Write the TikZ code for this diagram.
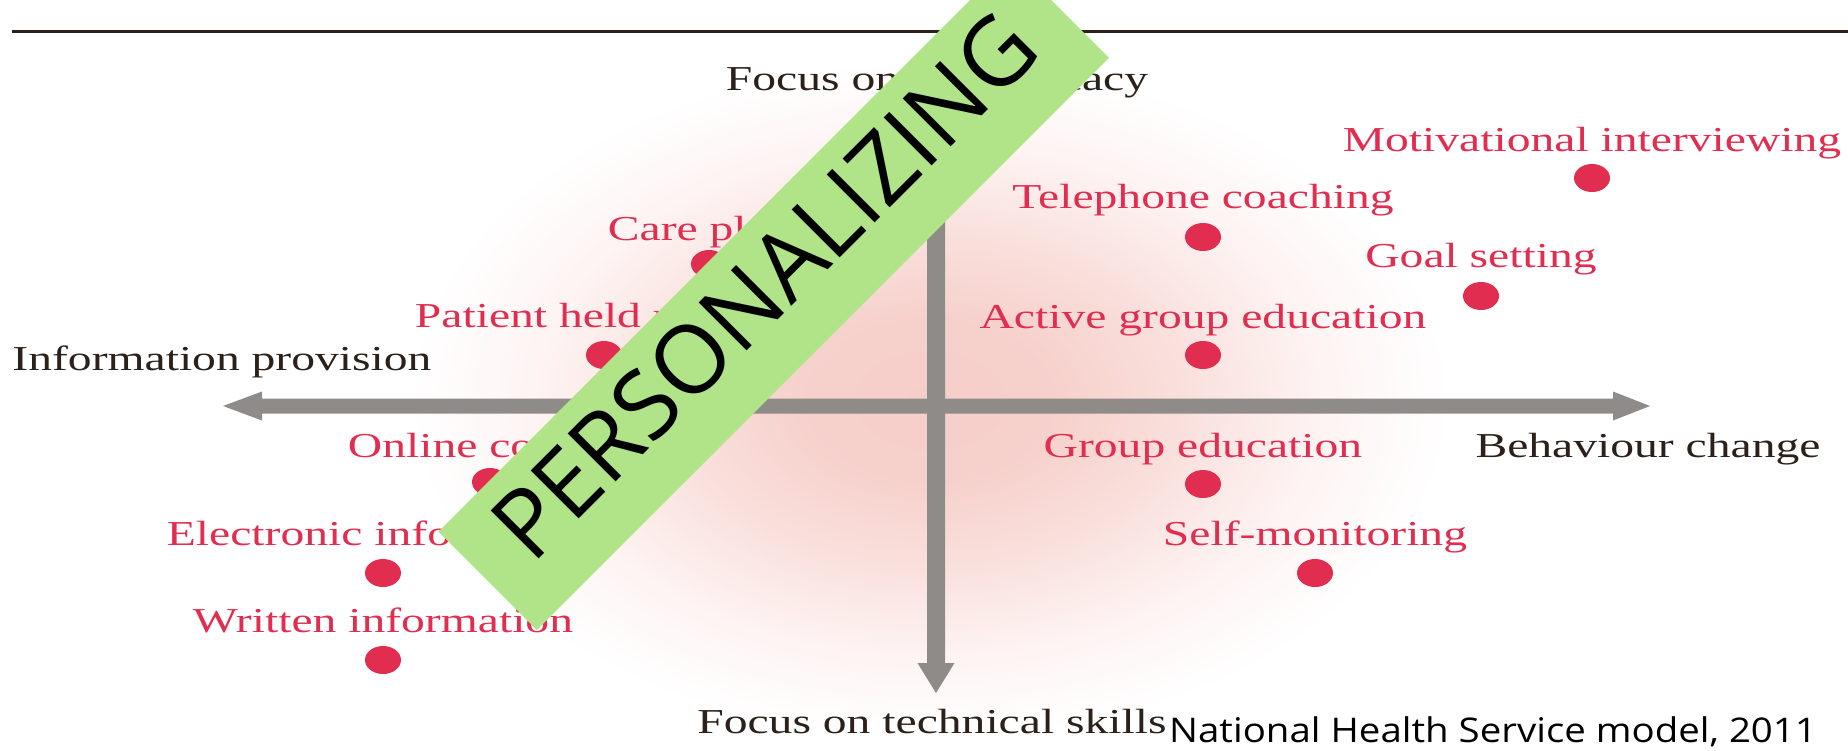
\documentclass[tikz,border=0pt]{standalone}
\usepackage{fontspec}
\setmainfont{Liberation Serif}
\newfontfamily\labelfont[FakeStretch=1.36]{Liberation Serif}
\newfontfamily\creditfont[FakeStretch=1.13]{Open Sans}
\newfontfamily\bannerfont{Open Sans}
\usetikzlibrary{shapes.geometric}

\definecolor{inkdark}{RGB}{43,33,26}
\definecolor{itemred}{RGB}{224,45,80}
\definecolor{axisgray}{RGB}{143,139,137}
\definecolor{bannergreen}{RGB}{177,227,137}
\definecolor{glowpink}{RGB}{246,206,201}

% soft pink halo behind the quadrants (fades to white at the rim)
\pgfdeclareradialshading{pinkglow}{\pgfpointorigin}{%
  color(0bp)=(glowpink);
  color(6bp)=(glowpink!95!white);
  color(12.5bp)=(glowpink!62!white);
  color(19bp)=(glowpink!22!white);
  color(25bp)=(white);
  color(50bp)=(white)}

\begin{document}
\begin{tikzpicture}[x=1pt,y=-1pt,
  item/.style={font=\labelfont\fontsize{35}{40}\selectfont, text=itemred,
    anchor=base, inner sep=0pt},
  axislabel/.style={item, text=inkdark},
  marker/.style={ellipse, fill=itemred, minimum width=36pt,
    minimum height=28pt, inner sep=0pt},
  credit/.style={font=\creditfont\fontsize{34}{40}\selectfont, text=black,
    anchor=base, inner sep=0pt},
  band/.style={fill=bannergreen, inner sep=0pt}]

\useasboundingbox (0,0) rectangle (1848,750);
\clip (0,0) rectangle (1848,750);
\fill[white] (0,0) rectangle (1848,750);

% background halo
\shade[shading=pinkglow] (930,400) ellipse [x radius=520, y radius=340];

% heading rule
\draw[inkdark, line width=3pt] (12,31) -- (1848,31);

% horizontal axis (double arrow)
\fill[axisgray] (223,406) -- (262,391.5) -- (262,398.5) -- (1613,398.5)
  -- (1613,391.5) -- (1650,406) -- (1613,420.5) -- (1613,413.5)
  -- (262,413.5) -- (262,420.5) -- cycle;
% vertical axis (double arrow)
\fill[axisgray] (936,122) -- (954.5,151) -- (945,151) -- (945,663)
  -- (954.5,663) -- (936,693) -- (917.5,663) -- (927,663)
  -- (927,151) -- (917.5,151) -- cycle;

% axis captions
\node[axislabel] (selfeff) at (937,90) {Focus on self-efficacy};
\node[axislabel] (techsk) at (932,733) {Focus on technical skills};
\node[axislabel] (infoprov) at (222,370) {Information provision};
\node[axislabel] (behav) at (1648,457) {Behaviour change};

% interventions
\node[item] (motiv) at (1592,151) {Motivational interviewing};
\node[marker] (motivdot) at (1592,178) {};
\node[item] (phone) at (1203,208) {Telephone coaching};
\node[marker] (phonedot) at (1203,237) {};
\node[item] (goal) at (1481,267) {Goal setting};
\node[marker] (goaldot) at (1481,296) {};
\node[item] (active) at (1203,328) {Active group education};
\node[marker] (activedot) at (1203,355) {};
\node[item] (group) at (1203,457) {Group education};
\node[marker] (groupdot) at (1203,484) {};
\node[item] (selfmon) at (1315,545) {Self-monitoring};
\node[marker] (selfmondot) at (1315,573) {};
\node[item] (care) at (709,240) {Care plans};
\node[marker] (caredot) at (709,264) {};
\node[item] (records) at (604,327) {Patient held records};
\node[marker] (recordsdot) at (604,355) {};
\node[item] (online) at (490,457) {Online courses};
\node[marker] (onlinedot) at (490,482) {};
\node[item] (elec) at (383,545) {Electronic information};
\node[marker] (elecdot) at (383,573) {};
\node[item] (written) at (383,632) {Written information};
\node[marker] (writtendot) at (383,660) {};

% source line
\node[credit] (source) at (1493,742) {National Health Service model, 2011};

% diagonal banner
\node[band, rotate=45, minimum width=809pt, minimum height=139pt]
  (banner) at (773.75,294.75) {};
\node[rotate=45, inner sep=0pt, font=\bannerfont\fontsize{95}{100}\selectfont]
  (bannertext) at (764,286) {PERSONALIZING};
\end{tikzpicture}
\end{document}
